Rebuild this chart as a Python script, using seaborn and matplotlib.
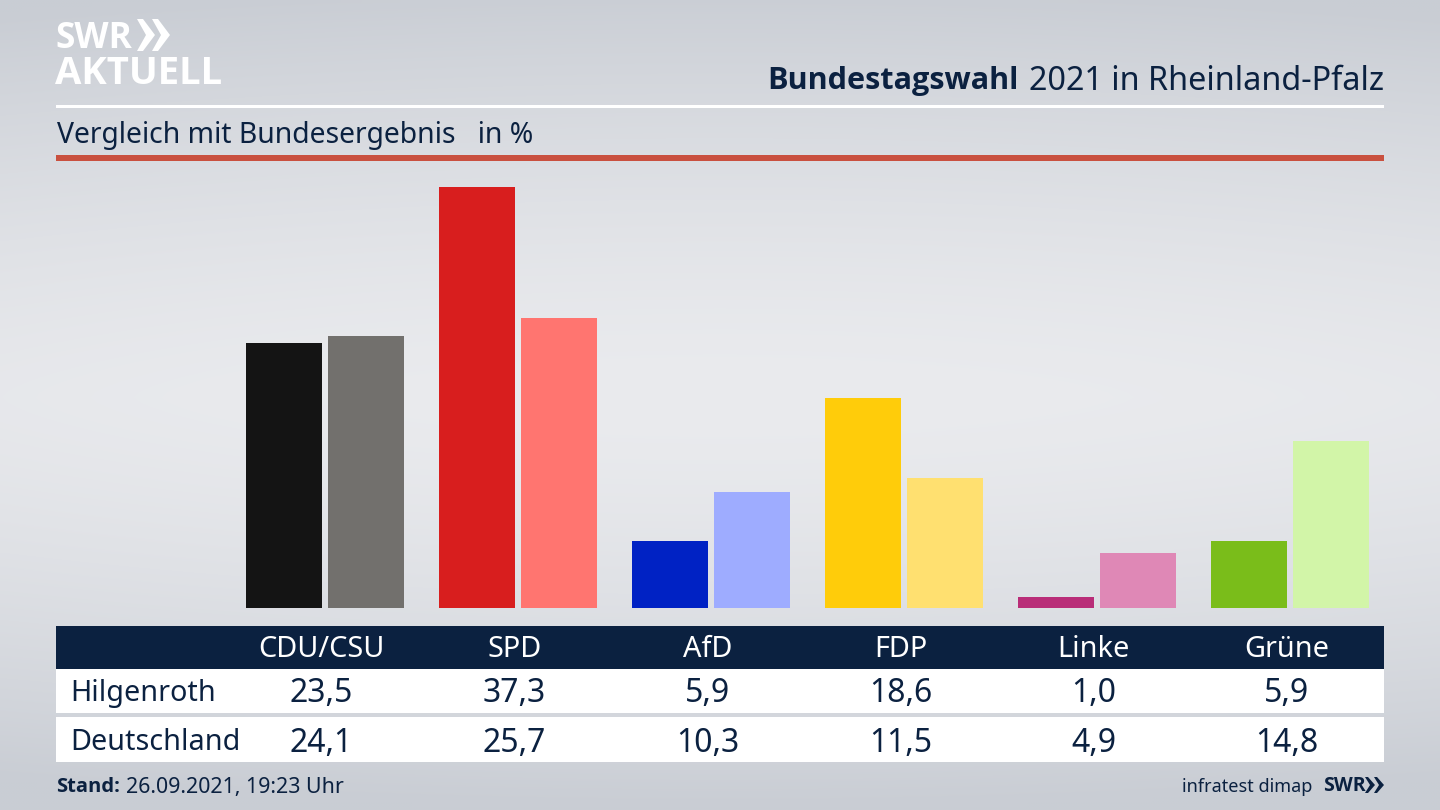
import numpy as np
import pandas as pd
import matplotlib
matplotlib.use("Agg")
import matplotlib.pyplot as plt
from matplotlib.patches import Rectangle, Polygon
import seaborn as sns

parties = ["CDU/CSU", "SPD", "AfD", "FDP", "Linke", "Grüne"]
hilgenroth = [23.5, 37.3, 5.9, 18.6, 1.0, 5.9]
deutschland = [24.1, 25.7, 10.3, 11.5, 4.9, 14.8]
colors_local = ["#141414", "#D81E1E", "#0022C4", "#FFCC0A", "#B92D78", "#7ABD1A"]
colors_national = ["#72706D", "#FF7570", "#9EACFF", "#FFE070", "#DF88B6", "#D2F5A8"]
regions = ["Hilgenroth", "Deutschland"]

NAVY = "#0B2140"
sns.set_theme(style="white")
plt.rcParams["font.family"] = ["Noto Sans", "DejaVu Sans"]

df = pd.DataFrame({
    "Partei": parties * 2,
    "Gebiet": [regions[0]] * 6 + [regions[1]] * 6,
    "Wert": hilgenroth + deutschland,
})

W, H = 1440, 810
fig = plt.figure(figsize=(14.4, 8.1), dpi=100)

# background gradient
bg = fig.add_axes([0, 0, 1, 1], zorder=0)
yy, xx = np.mgrid[0:1:162j, 0:1:288j]
d = np.abs(yy - 0.49) / 0.51
side = np.abs(xx - 0.5) / 0.5
t = np.clip(d ** 1.5 + 0.10 * side ** 2, 0, 1)
c0 = np.array([0xEA, 0xEB, 0xEE]) / 255
c1 = np.array([0xC9, 0xCD, 0xD4]) / 255
img = c0[None, None, :] * (1 - t[..., None]) + c1[None, None, :] * t[..., None]
bg.imshow(img, aspect="auto", extent=[0, W, H, 0], interpolation="bilinear")
bg.set_xlim(0, W)
bg.set_ylim(H, 0)
bg.axis("off")

# bars
px_per_unit = 11.29
top = 40
ax_h = top * px_per_unit
ax = fig.add_axes([228.5 / W, (H - 608) / H, 1158 / W, ax_h / H], zorder=1)
ax.patch.set_alpha(0)
sns.barplot(data=df, x="Partei", y="Wert", hue="Gebiet", order=parties,
            hue_order=regions, width=0.85, gap=0.062, legend=False,
            saturation=1, ax=ax)
for cont, cols in zip(ax.containers, [colors_local, colors_national]):
    for patch, col in zip(cont, cols):
        patch.set_facecolor(col)
        patch.set_edgecolor("none")
ax.set_xlim(-0.5, 5.5)
ax.set_ylim(0, top)
ax.axis("off")

# overlay in pixel coordinates
ov = fig.add_axes([0, 0, 1, 1], zorder=2)
ov.set_xlim(0, W)
ov.set_ylim(H, 0)
ov.axis("off")
ov.patch.set_alpha(0)

L, R = 56, 1384
ov.add_patch(Rectangle((L, 104.5), R - L, 3, fc="white", ec="none"))
ov.add_patch(Rectangle((L, 155), R - L, 5.5, fc="#C9503F", ec="none"))
ov.add_patch(Rectangle((L, 625.5), R - L, 43, fc=NAVY, ec="none"))
ov.add_patch(Rectangle((L, 668.5), R - L, 44.5, fc="white", ec="none"))
ov.add_patch(Rectangle((L, 717), R - L, 45, fc="white", ec="none"))

# logo
ov.text(55, 38.5, "SWR", color="white", fontsize=25.5, fontweight="bold",
        family="Open Sans", va="center", ha="left")
for x0 in (137, 152):
    ov.add_patch(Polygon([(x0, 19), (x0 + 6, 19), (x0 + 18, 35), (x0 + 6, 51),
                          (x0, 51), (x0 + 9, 35)], fc="white", ec="none"))
ov.text(55, 74, "AKTUELL", color="white", fontsize=27.5, fontweight="bold",
        family="Open Sans", va="center", ha="left")

# titles
ov.text(1384, 81, "2021 in Rheinland-Pfalz", color=NAVY, fontsize=23.3,
        ha="right", va="center")
ov.text(1019, 81, "Bundestagswahl", color=NAVY, fontsize=22.1, fontweight="bold",
        family="Open Sans", ha="right", va="center")
ov.text(57, 135, "Vergleich mit Bundesergebnis   in %", color=NAVY, fontsize=20.4,
        ha="left", va="center")

# table
centers = [321.5 + 193 * i for i in range(6)]
for cx, party, a, b in zip(centers, parties, hilgenroth, deutschland):
    ov.text(cx, 649.5, party, color="white", fontsize=20.8, ha="center", va="center")
    ov.text(cx, 694, f"{a:.1f}".replace(".", ","), color=NAVY, fontsize=23,
            ha="center", va="center")
    ov.text(cx, 743, f"{b:.1f}".replace(".", ","), color=NAVY, fontsize=23,
            ha="center", va="center")
ov.text(70, 693.5, regions[0], color=NAVY, fontsize=20.7, ha="left", va="center")
ov.text(70, 742.5, regions[1], color=NAVY, fontsize=20.7, ha="left", va="center")

# footer
ov.text(56, 787.5, "Stand:", color=NAVY, fontsize=14.5, fontweight="bold",
        family="Open Sans", ha="left", va="center")
ov.text(126, 787.5, "26.09.2021, 19:23 Uhr", color=NAVY, fontsize=15.4,
        ha="left", va="center")
ov.text(1312, 787, "infratest dimap", color=NAVY, fontsize=13, ha="right", va="center")
ov.text(1323, 786, "SWR", color=NAVY, fontsize=14, fontweight="bold",
        family="Open Sans", ha="left", va="center")
for x0 in (1365, 1374):
    ov.add_patch(Polygon([(x0, 777), (x0 + 3, 777), (x0 + 10, 785), (x0 + 3, 793),
                          (x0, 793), (x0 + 5, 785)], fc=NAVY, ec="none"))

fig.savefig("out.png", dpi=100)
